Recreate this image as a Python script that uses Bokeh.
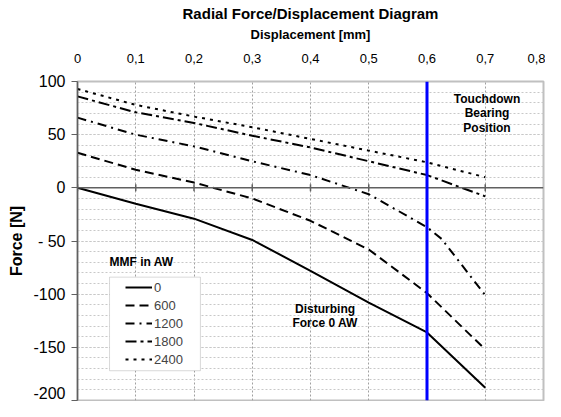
from bokeh.plotting import figure
from bokeh.models import (Span, Label, Legend, LegendItem, SingleIntervalTicker,
                          FixedTicker, CustomJSTickFormatter, BoxAnnotation, Range1d)
from bokeh.embed import file_html
from bokeh.resources import INLINE

# ---- data ----
x_ticks = [0, 0.1, 0.2, 0.3, 0.4, 0.5, 0.6, 0.7, 0.8]
disp = [0, 0.1, 0.2, 0.3, 0.4, 0.5, 0.6, 0.7]
disp_1200 = [0, 0.1, 0.2, 0.3, 0.4, 0.5, 0.6, 0.625, 0.7]
force_0 = [0, -15, -29, -49, -78, -108, -136, -188]
force_600 = [33, 17, 5, -10, -31, -58, -99, -152]
force_1200 = [66, 50, 39, 25, 12, -6, -37, -48, -101]
force_1800 = [86, 71, 61, 49, 38, 25, 12, -8]
force_2400 = [93, 78, 67, 57, 46, 35, 24, 10]
series_labels = ["0", "600", "1200", "1800", "2400"]
y_tick_labels = {100: "100", 50: "50", 0: "0", -50: "- 50", -100: "-100", -150: "-150", -200: "-200"}
touchdown_pos = 0.6

FONT = "Liberation Sans"

p = figure(frame_width=466, frame_height=319, x_range=Range1d(0, 0.8), y_range=Range1d(-200, 100),
           x_axis_location="above", output_backend="svg", toolbar_location=None,
           min_border_left=77, min_border_right=2, min_border_top=78, min_border_bottom=1)

p.title.text = "Radial Force/Displacement Diagram"
p.title.align = "center"
p.title.text_font = FONT
p.title.text_font_size = "15px"
p.title.text_font_style = "bold"
p.title.text_color = "black"
p.title.standoff = 4
p.title.offset = 0

xa = p.xaxis[0]
xa.ticker = FixedTicker(ticks=x_ticks)
xa.formatter = CustomJSTickFormatter(code="return (Math.round(tick*10)/10).toString().replace('.', ',');")
xa.axis_label = "Displacement [mm]"
xa.axis_label_text_font = FONT
xa.axis_label_text_font_size = "13px"
xa.axis_label_text_font_style = "bold"
xa.axis_label_text_color = "black"
xa.axis_label_standoff = 9
xa.major_label_text_font = FONT
xa.major_label_text_font_size = "13px"
xa.major_label_text_color = "black"
xa.major_label_standoff = 19
xa.axis_line_color = None
xa.major_tick_line_color = None
xa.major_tick_out = 0
xa.major_tick_in = 0
xa.minor_tick_line_color = None
xa.minor_tick_out = 0

ya = p.yaxis[0]
ya.ticker = SingleIntervalTicker(interval=50, num_minor_ticks=5)
ya.major_label_overrides = y_tick_labels
ya.axis_label = "Force [N]"
ya.axis_label_text_font = FONT
ya.axis_label_text_font_size = "16px"
ya.axis_label_text_font_style = "bold"
ya.axis_label_text_color = "black"
ya.axis_label_standoff = 5
ya.major_label_text_font = FONT
ya.major_label_text_font_size = "16px"
ya.major_label_text_color = "black"
ya.major_label_standoff = 6
ya.axis_line_color = "#606060"
ya.axis_line_width = 1.5
ya.major_tick_line_color = "#606060"
ya.major_tick_out = 6
ya.major_tick_in = 0
ya.minor_tick_line_color = None

p.xgrid.grid_line_color = "#a0a0a0"
p.xgrid.grid_line_dash = "2 2"
p.ygrid.grid_line_color = "#c8c8c8"
p.ygrid.grid_line_dash = "2 2"
p.ygrid.minor_grid_line_color = "#c8c8c8"
p.ygrid.minor_grid_line_dash = "2 2"
p.outline_line_color = "#c0c0c0"
p.outline_line_width = 2
p.background_fill_color = "white"

p.add_layout(Span(location=0, dimension="width", line_color="#606060", line_width=1.5))
p.scatter(x_ticks[:-1], [0] * (len(x_ticks) - 1), marker="dash", angle=1.5708,
          size=7, line_color="#606060", line_width=1.5)

r0 = p.line(disp, force_0, line_color="black", line_width=2)
r600 = p.line(disp, force_600, line_color="black", line_width=2, line_dash="9 5")
r1200 = p.line(disp_1200, force_1200, line_color="black", line_width=2, line_dash="9 5 2 5")
r1800 = p.line(disp, force_1800, line_color="black", line_width=2, line_dash="11 4 3 4")
r2400 = p.line(disp, force_2400, line_color="black", line_width=2, line_dash="3 5")

p.add_layout(Span(location=touchdown_pos, dimension="height", line_color="#0000ff", line_width=3))

p.add_layout(BoxAnnotation(left=0.055, right=0.211, top=-84, bottom=-172,
                           fill_color="white", fill_alpha=1,
                           line_color="#808080", line_width=1))

legend = Legend(items=[LegendItem(label=l, renderers=[r]) for l, r in
                       zip(series_labels, [r0, r600, r1200, r1800, r2400])],
                location=(48, 32), border_line_color=None, background_fill_alpha=0,
                padding=0, spacing=0, glyph_width=27, glyph_height=18, label_height=18,
                label_standoff=2, label_text_font=FONT, label_text_font_size="13px",
                margin=0)
p.add_layout(legend)

def add_label(x, y, text, align="center"):
    p.add_layout(Label(x=x, y=y, text=text, text_align=align, text_baseline="middle",
                       text_font=FONT, text_font_size="12px", text_font_style="bold",
                       text_color="black"))

add_label(0.055, -69.5, "MMF in AW", align="left")
add_label(0.703, 84, "Touchdown")
add_label(0.703, 70, "Bearing")
add_label(0.703, 56, "Position")
add_label(0.425, -114, "Disturbing")
add_label(0.425, -127.5, "Force 0 AW")

open("out.html", "w").write(file_html(p, INLINE))
